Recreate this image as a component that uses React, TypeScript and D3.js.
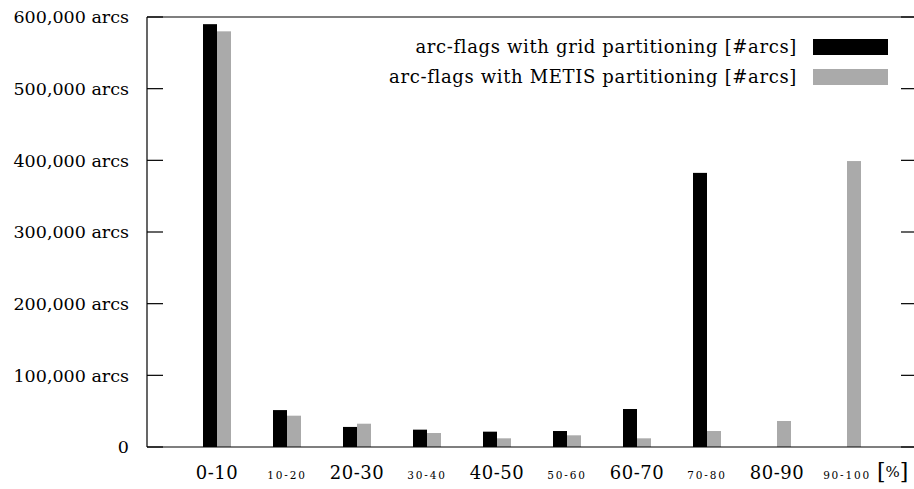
import React from 'react';
import * as d3 from 'd3';

// bins of the arc-flag share, in percent
const bins = ['0-10', '10-20', '20-30', '30-40', '40-50', '50-60', '60-70', '70-80', '80-90', '90-100'];
// every other bin label is typeset small in the original
const smallBin = [false, true, false, true, false, true, false, true, false, true];

const gridArcs = [590000, 51500, 28000, 24200, 21400, 22300, 53000, 382500, 0, 0];
const metisArcs = [580000, 43700, 32500, 19500, 12100, 16300, 12100, 22300, 36300, 399000];

const yTicks = [0, 100000, 200000, 300000, 400000, 500000, 600000];
const legendLabels = [
  'arc-flags with grid partitioning [#arcs]',
  'arc-flags with METIS partitioning [#arcs]',
];
const seriesColors = ['#000000', '#aaaaaa'];

const W = 914, H = 489;
const left = 147, right = 917, top = 17, bottom = 447;
const font = '"DejaVu Serif", serif';

export default function App() {
  const x = d3.scaleLinear().domain([-1, 10]).range([left, right]);
  const y = d3.scaleLinear().domain([0, 600000]).range([bottom, top]);
  const barW = 14;
  const fmt = d3.format(',');

  return (
    <svg width={W} height={H} style={{ position: 'absolute', left: 0, top: 0, background: '#fff' }}>
      {/* bars */}
      {bins.map((b, i) => (
        <g key={b}>
          {gridArcs[i] > 0 && (
            <rect x={x(i) - barW} y={y(gridArcs[i])} width={barW} height={y(0) - y(gridArcs[i])} fill={seriesColors[0]} />
          )}
          {metisArcs[i] > 0 && (
            <rect x={x(i)} y={y(metisArcs[i])} width={barW} height={y(0) - y(metisArcs[i])} fill={seriesColors[1]} />
          )}
        </g>
      ))}

      {/* frame */}
      <g stroke="#000" strokeWidth={1.2} fill="none">
        <line x1={left} x2={right} y1={top} y2={top} />
        <line x1={left} x2={right} y1={bottom} y2={bottom} />
        <line x1={left} x2={left} y1={top} y2={bottom} />
        <line x1={right} x2={right} y1={top} y2={bottom} />
      </g>

      {/* y ticks and labels */}
      {yTicks.map(t => (
        <g key={t}>
          <line x1={left} x2={left + 16} y1={y(t)} y2={y(t)} stroke="#000" strokeWidth={1.2} />
          <line x1={right - 16} x2={right} y1={y(t)} y2={y(t)} stroke="#000" strokeWidth={1.2} />
          <text x={129} y={y(t)} dy="0.36em" textAnchor="end" fontFamily={font} fontSize={17.5}>
            {t === 0 ? '0' : `${fmt(t)} arcs`}
          </text>
        </g>
      ))}

      {/* x labels */}
      {bins.map((b, i) => (
        <text
          key={b}
          x={x(i)}
          y={479}
          textAnchor="middle"
          fontFamily={font}
          fontSize={smallBin[i] ? 10.5 : 18}
          letterSpacing={smallBin[i] ? 1.8 : 0.5}
        >
          {b}
        </text>
      ))}
      <text x={877} y={477} fontFamily={font} fontSize={15}>
        <tspan fontSize={22} dy={2}>[</tspan>
        <tspan dy={-2}>%</tspan>
        <tspan fontSize={22} dy={2}>]</tspan>
      </text>

      {/* legend */}
      {legendLabels.map((l, i) => (
        <g key={l}>
          <text x={797} y={53 + i * 30} textAnchor="end" fontFamily={font} fontSize={18} letterSpacing={0.65}>{l}</text>
          <rect x={813} y={39 + i * 30} width={75} height={16} fill={seriesColors[i]} />
        </g>
      ))}
    </svg>
  );
}
